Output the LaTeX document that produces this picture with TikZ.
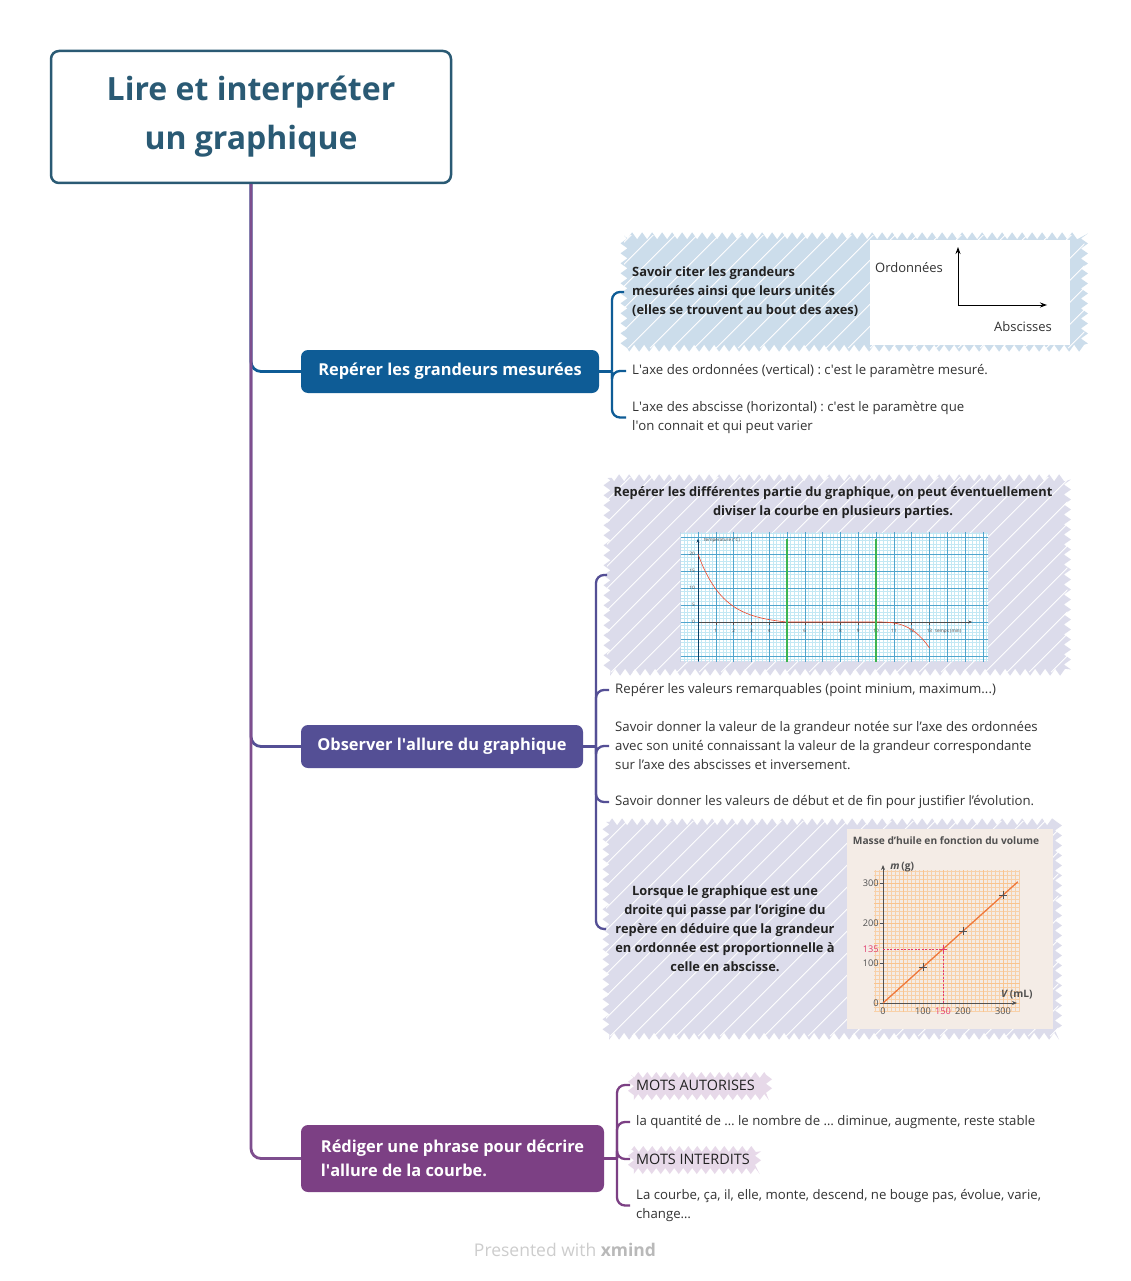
\documentclass[tikz,border=0pt]{standalone}
\usepackage{fontspec}
\setmainfont{Open Sans}
\usetikzlibrary{decorations.pathmorphing,calc,arrows.meta}
\frenchspacing
\newcommand{\sq}{\textquotesingle}

\definecolor{rootc}{RGB}{42,90,116}
\definecolor{tone}{RGB}{14,92,150}
\definecolor{ttwo}{RGB}{84,79,149}
\definecolor{tthree}{RGB}{124,64,132}
\definecolor{trunkc}{RGB}{126,78,142}
\definecolor{hblue}{RGB}{204,221,235}
\definecolor{hlav}{RGB}{220,220,235}
\definecolor{hpink}{RGB}{231,217,233}
\definecolor{txt}{RGB}{51,51,51}
\definecolor{txtb}{RGB}{34,34,34}
\definecolor{gridlt}{RGB}{195,232,244}
\definecolor{gridmj}{RGB}{80,165,205}
\definecolor{curvered}{RGB}{240,70,40}
\definecolor{greenl}{RGB}{60,180,80}
\definecolor{beige}{RGB}{244,236,230}
\definecolor{gridor}{RGB}{248,208,168}
\definecolor{linor}{RGB}{238,120,60}
\definecolor{pinkv}{RGB}{225,60,110}
\definecolor{axg}{RGB}{80,80,80}
\definecolor{footg}{RGB}{205,205,205}
\definecolor{footd}{RGB}{185,185,185}

\newcommand{\myhatch}[2]{%
  \fill[#2, decorate, decoration={zigzag, segment length=10pt, amplitude=3.5pt}] (#1.north west) rectangle (#1.south east);
  \begin{scope}
    \clip (#1.north west) rectangle (#1.south east);
    \foreach \k in {-260,-238,...,520}
      \draw[white, line width=0.8pt] ($(#1.south west)+(\k,0)$) -- ++(330,-330);
  \end{scope}
}

\begin{document}
\begin{tikzpicture}[x=1pt, y=-1pt,
  rootbox/.style={draw=rootc, line width=2.5pt, rounded corners=8pt, fill=white,
    minimum width=400pt, minimum height=132pt, align=center, text=rootc,
    font=\fontsize{32}{49}\selectfont\bfseries},
  topic/.style={rounded corners=7pt, text=white, inner sep=0pt,
    font=\fontsize{16.4}{24}\selectfont\bfseries, minimum height=43pt},
  leaf/.style={anchor=west, inner xsep=6pt, inner ysep=2pt, align=left, text=txt,
    font=\fontsize{13.2}{19}\selectfont},
  caps/.style={font=\fontsize{14.4}{19}\selectfont, text=txtb},
  boldtxt/.style={inner sep=2pt, text=txtb, font=\fontsize{12.85}{19}\selectfont\bfseries},
  hbox/.style={inner sep=0pt, anchor=west},
  trunk/.style={line width=2.8pt, rounded corners=10pt},
  brl/.style={line width=2.3pt, rounded corners=8pt},
  tiny/.style={font=\fontsize{4.6}{5}\selectfont, inner sep=0.5pt, text=black!75},
  small/.style={font=\fontsize{9.2}{11}\selectfont, inner sep=1pt, text=axg}
]
\useasboundingbox (0,0) rectangle (1130,1281);
\fill[white] (0,0) rectangle (1130,1281);

% ---------- hatched boxes ----------
\node[hbox, minimum width=460pt, minimum height=112pt] (b1) at (624,292) {};
\node[hbox, minimum width=460pt, minimum height=194pt] (b2) at (607,575) {};
\node[hbox, minimum width=452pt, minimum height=214pt] (b3) at (606,929) {};
\myhatch{b1}{hblue}
\myhatch{b2}{hlav}
\myhatch{b3}{hlav}
\fill[hpink, decorate, decoration={zigzag, segment length=9pt, amplitude=3pt}] (631,1075) rectangle (769,1097);
\fill[hpink, decorate, decoration={zigzag, segment length=9pt, amplitude=3pt}] (631,1149) rectangle (758,1171);

% ---------- root and topics ----------
\node[rootbox] (root) at (251,117) {Lire et interpréter\\un graphique};
\node[topic, fill=tone, minimum width=298pt] (t1) at (450,371.5) {Repérer les grandeurs mesurées};
\node[topic, fill=ttwo, minimum width=282pt] (t2) at (442,746.5) {Observer l\sq allure du graphique};
\node[topic, fill=tthree, minimum width=303pt, minimum height=67pt, align=left] (t3) at (452.5,1158.5) {Rédiger une phrase pour décrire\\l\sq allure de la courbe.};

% trunk connectors
\draw[trunk, tone] (root.south) |- (t1.west);
\draw[trunk, ttwo] (root.south) |- (t2.west);
\draw[trunk, trunkc] (root.south) |- (t3.west);

% ---------- branch 1 ----------
\node[boldtxt, anchor=west, align=left, inner xsep=6pt] (b1t) at (626,292) {Savoir citer les grandeurs\\mesurées ainsi que leurs unités\\(elles se trouvent au bout des axes)};
\node[fill=white, inner sep=0pt, minimum width=200pt, minimum height=105pt] (img1) at (970,292.5) {};
\coordinate (ax0) at (958,305);
\coordinate (axy) at (958,247);
\coordinate (axx) at (1047,305);
\draw[line width=0.9pt, -{Stealth[length=7pt,width=5pt]}] (ax0) -- (axy);
\draw[line width=0.9pt, -{Stealth[length=7pt,width=5pt]}] (ax0) -- (axx);
\node[font=\fontsize{13}{15}\selectfont, text=txt] (ord) at (909,268) {Ordonnées};
\node[font=\fontsize{13}{15}\selectfont, text=txt] (abs) at (1023,327) {Abscisses};

\node[leaf] (l1b) at (626,371) {L\sq axe des ordonnées (vertical) : c\sq est le paramètre mesuré.};
\node[leaf] (l1c) at (626,417.5) {L\sq axe des abscisse (horizontal) : c\sq est le paramètre que\\l\sq on connait et qui peut varier};

\coordinate (j1) at (612,371.5);
\draw[brl, tone] (t1.east) -- (j1);
\draw[brl, tone] (j1) |- (b1.west);
\draw[brl, tone] (j1) |- (l1b.west);
\draw[brl, tone] (j1) |- (l1c.west);

% ---------- branch 2 ----------
\node[boldtxt, align=center] (b2t) at (833,502.5) {Repérer les différentes partie du graphique, on peut éventuellement\\diviser la courbe en plusieurs parties.};
\node[fill=white, inner sep=0pt, minimum width=307pt, minimum height=128pt] (g1) at (834.5,597) {};
\begin{scope}
  \clip (g1.north west) rectangle (g1.south east);
  \begin{scope}[shift={(698,622)}, x=17.8pt, y=3.4pt]
    \draw[gridlt, line width=0.25pt] (-1,-12) grid[xstep=0.2, ystep=1] (17,27);
    \draw[gridmj, line width=0.5pt] (-1,-15) grid[xstep=1, ystep=5] (17,30);
  \end{scope}
\end{scope}
\begin{scope}[shift={(698,622)}, x=17.8pt, y=3.4pt]
  \draw[black!70, line width=0.5pt, -{Stealth[length=4pt,width=3pt]}] (0,0) -- (15.4,0);
  \draw[tone!70!black, line width=0.6pt, -{Stealth[length=4pt,width=3pt]}] (0,-11.5) -- (0,24.5);
  \foreach \i in {1,...,13} {
    \draw[black!70, line width=0.3pt] (\i,0) -- (\i,-0.9);
    \node[tiny] at (\i,-2.7) {\i};
  }
  \foreach \v in {0,5,10,15,20} \node[tiny, anchor=east] at (-0.15,\v) {\v};
  \node[tiny, anchor=west] at (0.3,24) {température (°C)};
  \node[tiny, anchor=west] at (13.3,-2.7) {temps (min)};
  \draw[curvered, line width=0.6pt] plot[domain=0:5, samples=50] (\x, {20*(exp(-\x/1.4)-exp(-5/1.4)*\x/5)}) -- (10,0)
     -- plot[domain=10:13, samples=30] (\x, {-7.6*((\x-10)/3)^3});
  \draw[greenl, line width=1.4pt] (5,-11.8) -- (5,24.5);
  \draw[greenl, line width=1.4pt] (10,-11.8) -- (10,24.5);
\end{scope}

\node[leaf] (l2b) at (609,690) {Repérer les valeurs remarquables (point minium, maximum...)};
\node[leaf] (l2c) at (609,746) {Savoir donner la valeur de la grandeur notée sur l’axe des ordonnées\\avec son unité connaissant la valeur de la grandeur correspondante\\sur l’axe des abscisses et inversement.};
\node[leaf] (l2d) at (609,802) {Savoir donner les valeurs de début et de fin pour justifier l’évolution.};

\node[boldtxt, align=center] (b3t) at (725,929) {Lorsque le graphique est une\\droite qui passe par l’origine du\\repère en déduire que la grandeur\\en ordonnée est proportionnelle à\\celle en abscisse.};

\node[fill=beige, inner sep=0pt, minimum width=206pt, minimum height=200pt] (g2) at (950,929) {};
\node[font=\fontsize{10.2}{12}\selectfont\bfseries, text=axg, inner sep=0pt] (g2t) at (946,841) {Masse d’huile en fonction du volume};
\begin{scope}[shift={(883,1003)}, x=0.4pt, y=0.4pt]
  \draw[gridor, line width=0.25pt] (-22,-22) grid[step=10] (342,332);
  \draw[gridor!85!orange, line width=0.45pt] (-22,-22) grid[step=50] (342,332);
  \draw[axg, line width=0.8pt, -{Stealth[length=5pt,width=4pt]}] (0,0) -- (335,0);
  \draw[axg, line width=0.8pt, -{Stealth[length=5pt,width=4pt]}] (0,0) -- (0,345);
  \foreach \v in {100,200,300} {
    \draw[axg, line width=0.6pt] (-8,\v) -- (0,\v);
    \node[small, anchor=east] at (-8,\v) {\v};
    \node[small, anchor=north] at (\v,-10) {\v};
  }
  \draw[axg, line width=0.6pt] (-8,0) -- (0,0);
  \node[small, anchor=east] at (-8,0) {0};
  \node[small, anchor=north] at (0,-10) {0};
  \node[small, anchor=north, text=pinkv] at (150,-10) {150};
  \node[small, anchor=east, text=pinkv] at (-8,135) {135};
  \draw[pinkv, line width=0.5pt, dash pattern=on 2pt off 1.5pt] (0,135) -- (150,135) -- (150,0);
  \draw[linor, line width=1.3pt] (0,0) -- (337,303);
  \foreach \p/\q in {100/90,200/180,300/270}
    \draw[axg, line width=0.9pt] (\p-10,\q) -- (\p+10,\q) (\p,\q-10) -- (\p,\q+10);
  \draw[pinkv, line width=0.9pt] (140,135) -- (160,135) (150,125) -- (150,145);
  \node[font=\fontsize{10.2}{12}\selectfont\bfseries, text=axg, anchor=west, inner sep=0pt] at (18,340) {\textit{m}\,(g)};
  \node[font=\fontsize{10.2}{12}\selectfont\bfseries, text=axg, anchor=west, inner sep=0pt] at (295,22) {\textit{V}\,(mL)};
\end{scope}

\coordinate (j2) at (596,746.5);
\draw[brl, ttwo] (t2.east) -- (j2);
\draw[brl, ttwo] (j2) |- (b2.west);
\draw[brl, ttwo] (j2) |- (l2b.west);
\draw[brl, ttwo] (j2) |- (l2c.west);
\draw[brl, ttwo] (j2) |- (l2d.west);
\draw[brl, ttwo] (j2) |- (b3.west);

% ---------- branch 3 ----------
\node[leaf, caps] (l3a) at (630,1085) {MOTS AUTORISES};
\node[leaf] (l3b) at (630,1122) {la quantité de … le nombre de … diminue, augmente, reste stable};
\node[leaf, caps] (l3c) at (630,1159) {MOTS INTERDITS};
\node[leaf] (l3d) at (630,1205.5) {La courbe, ça, il, elle, monte, descend, ne bouge pas, évolue, varie,\\change…};

\coordinate (j3) at (617,1158.5);
\draw[brl, tthree] (t3.east) -- (j3);
\draw[brl, tthree] (j3) |- (l3a.west);
\draw[brl, tthree] (j3) |- (l3b.west);
\draw[brl, tthree] (j3) |- (l3c.west);
\draw[brl, tthree] (j3) |- (l3d.west);

% ---------- footer ----------
\node[text=footg, font=\fontsize{17.5}{20}\selectfont] (foot) at (565,1250) {Presented with \textcolor{footd}{\textbf{xmind}}};
\end{tikzpicture}
\end{document}
